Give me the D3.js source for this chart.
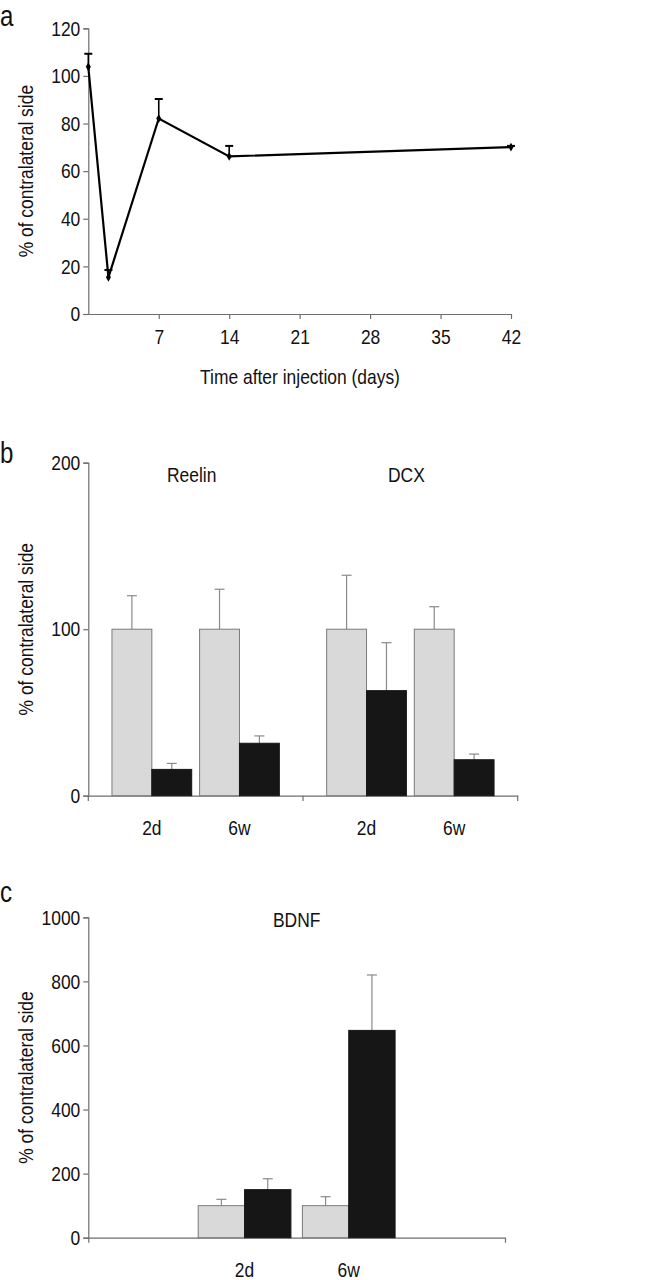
<!DOCTYPE html>
<html><head><meta charset="utf-8">
<script src="https://cdn.jsdelivr.net/npm/d3@7"></script>
<style>
html,body{margin:0;padding:0;background:#fff;}
text{font-family:"Liberation Sans",Arial,sans-serif;fill:#111;}
</style></head>
<body>
<svg id="c" width="646" height="1280"></svg>
<script>
// ---------- Panel a data ----------
const aDays = [0, 2, 7, 14, 42];
const aMean = [103.8, 15.4, 82.1, 66.2, 70.1];
const aErrTop = [109.3, 18.5, 90.3, 70.6, 70.6];
const aXTicks = [7, 14, 21, 28, 35, 42];
const aYTicks = [0, 20, 40, 60, 80, 100, 120];

// ---------- Panel b data ----------
const bMarkers = ["Reelin", "DCX"];
const bTimes = ["2d", "6w"];
const bSeries = ["contralateral", "ipsilateral"];
const bReelinContra = [100, 100];
const bReelinContraErr = [120.1, 124.0];
const bReelinIpsi = [15.8, 31.5];
const bReelinIpsiErr = [19.4, 35.9];
const bDcxContra = [100, 100];
const bDcxContraErr = [132.4, 113.5];
const bDcxIpsi = [63.1, 21.6];
const bDcxIpsiErr = [91.9, 25.0];
const bYTicks = [0, 100, 200];

// ---------- Panel c data ----------
const cCats = ["", "2d", "6w", " "];
const cContra = [null, 100, 100, null];
const cContraErr = [null, 119.8, 128, null];
const cIpsi = [null, 150, 647, null];
const cIpsiErr = [null, 184, 820, null];
const cYTicks = [0, 200, 400, 600, 800, 1000];

const svg = d3.select("#c");
const AXIS = "#6e6e6e";
const GREY = "#d9d9d9";
const BLACK = "#161616";
const FS = 21;

function styleAxis(g){
  g.selectAll("path.domain").attr("stroke", AXIS).attr("stroke-width", 1.2);
  g.selectAll(".tick line").attr("stroke", AXIS).attr("stroke-width", 1.2);
  g.selectAll("text").attr("font-size", FS).attr("fill", "#111")
    .style("font-family", '"Liberation Sans",Arial,sans-serif');
}
function yLabel(cy){
  svg.append("text").attr("transform", `translate(33,${cy}) rotate(-90)`)
    .attr("text-anchor", "middle").attr("font-size", FS).text("% of contralateral side");
}
function panelLetter(t, x, y){
  svg.append("text").attr("x", x).attr("y", y).attr("font-size", 29).text(t);
}

// ================= Panel a =================
{
  const x = d3.scaleLinear().domain([0, 42]).range([88.3, 511]);
  const y = d3.scaleLinear().domain([0, 120]).range([314, 28.3]);
  const g = svg.append("g");
  const ya = g.append("g").attr("transform", "translate(88.3,0)")
    .call(d3.axisLeft(y).tickValues(aYTicks).tickSize(5).tickPadding(3).tickFormat(d3.format("d")));
  styleAxis(ya);
  const xa = g.append("g").attr("transform", "translate(0,314)")
    .call(d3.axisBottom(x).tickValues(aXTicks).tickSize(5).tickSizeOuter(0).tickPadding(10));
  styleAxis(xa);
  const pts = aDays.map((d, i) => ({d, m: aMean[i], e: aErrTop[i]}));
  g.selectAll(".eb").data(pts).enter().append("line")
    .attr("x1", p => x(p.d)).attr("x2", p => x(p.d))
    .attr("y1", p => y(p.m)).attr("y2", p => y(p.e))
    .attr("stroke", "#000").attr("stroke-width", 1.6);
  g.selectAll(".cap").data(pts).enter().append("line")
    .attr("x1", p => x(p.d) - 4).attr("x2", p => x(p.d) + 4)
    .attr("y1", p => y(p.e)).attr("y2", p => y(p.e))
    .attr("stroke", "#000").attr("stroke-width", 2);
  g.append("path").datum(pts)
    .attr("d", d3.line().x(p => x(p.d)).y(p => y(p.m)))
    .attr("fill", "none").attr("stroke", "#000").attr("stroke-width", 2.2);
  g.selectAll(".mk").data(pts).enter().append("path")
    .attr("transform", p => `translate(${x(p.d)},${y(p.m)})`)
    .attr("d", d3.symbol(d3.symbolDiamond, 22)).attr("fill", "#000");
  svg.append("text").attr("x", 300).attr("y", 384)
    .attr("text-anchor", "middle").attr("font-size", FS).text("Time after injection (days)");
  yLabel((28.3 + 314) / 2);
  panelLetter("a", 0, 26);
}

// ================= Panel b =================
{
  const y = d3.scaleLinear().domain([0, 200]).range([795.7, 462.7]);
  const xg = d3.scaleBand().domain(bMarkers).range([88.3, 517.7]).padding(0);
  const xt = d3.scaleBand().domain(bTimes).range([0, xg.bandwidth()]).paddingInner(0.09).paddingOuter(0.27);
  const xs = d3.scaleBand().domain(bSeries).range([0, xt.bandwidth()]).padding(0);
  const g = svg.append("g");
  const ya = g.append("g").attr("transform", "translate(88.3,0)")
    .call(d3.axisLeft(y).tickValues(bYTicks).tickSize(5).tickPadding(3));
  styleAxis(ya);
  const xa = g.append("g").attr("transform", "translate(0,795.7)")
    .call(d3.axisBottom(xg).tickSize(0).tickSizeOuter(0).tickFormat(""));
  styleAxis(xa);
  const bounds = [xg.range()[0], xg(bMarkers[1]), xg.range()[1]];
  g.selectAll(".bt").data(bounds).enter().append("line")
    .attr("x1", d => d).attr("x2", d => d).attr("y1", 795.7).attr("y2", 801)
    .attr("stroke", AXIS).attr("stroke-width", 1.2);
  const table = {
    Reelin: {contralateral: [bReelinContra, bReelinContraErr], ipsilateral: [bReelinIpsi, bReelinIpsiErr]},
    DCX: {contralateral: [bDcxContra, bDcxContraErr], ipsilateral: [bDcxIpsi, bDcxIpsiErr]}
  };
  const bars = [];
  bMarkers.forEach(m => bTimes.forEach((t, ti) => bSeries.forEach(s => {
    bars.push({m, t, s, v: table[m][s][0][ti], e: table[m][s][1][ti]});
  })));
  const bx = b => xg(b.m) + xt(b.t) + xs(b.s);
  g.selectAll(".ebar").data(bars).enter().append("line")
    .attr("x1", b => bx(b) + xs.bandwidth() / 2).attr("x2", b => bx(b) + xs.bandwidth() / 2)
    .attr("y1", b => y(b.v)).attr("y2", b => y(b.e))
    .attr("stroke", "#8a8a8a").attr("stroke-width", 1.2);
  g.selectAll(".ecap").data(bars).enter().append("line")
    .attr("x1", b => bx(b) + xs.bandwidth() / 2 - 5).attr("x2", b => bx(b) + xs.bandwidth() / 2 + 5)
    .attr("y1", b => y(b.e)).attr("y2", b => y(b.e))
    .attr("stroke", "#8a8a8a").attr("stroke-width", 1.2);
  g.selectAll(".bar").data(bars).enter().append("rect")
    .attr("x", bx).attr("width", xs.bandwidth())
    .attr("y", b => y(b.v)).attr("height", b => y(0) - y(b.v))
    .attr("fill", b => b.s === "contralateral" ? GREY : BLACK)
    .attr("stroke", b => b.s === "contralateral" ? "#7a7a7a" : BLACK).attr("stroke-width", 1);
  bMarkers.forEach(m => bTimes.forEach(t => {
    svg.append("text").attr("x", xg(m) + xt(t) + xt.bandwidth() / 2).attr("y", 835)
      .attr("text-anchor", "middle").attr("font-size", FS).text(t);
  }));
  bMarkers.forEach(m => {
    svg.append("text").attr("x", xg(m) + xt(bTimes[0]) + xt.bandwidth()).attr("y", 482)
      .attr("text-anchor", "middle").attr("font-size", FS).text(m);
  });
  yLabel((462.7 + 795.7) / 2);
  panelLetter("b", 0, 463);
}

// ================= Panel c =================
{
  const y = d3.scaleLinear().domain([0, 1000]).range([1237.7, 917.3]);
  const x = d3.scaleBand().domain(cCats).range([88.3, 505]).paddingInner(0.11).paddingOuter(0.055);
  const xs = d3.scaleBand().domain(bSeries).range([0, x.bandwidth()]).padding(0);
  const g = svg.append("g");
  const ya = g.append("g").attr("transform", "translate(88.3,0)")
    .call(d3.axisLeft(y).tickValues(cYTicks).tickSize(5).tickPadding(3).tickFormat(d3.format("d")));
  styleAxis(ya);
  const xa = g.append("g").attr("transform", "translate(0,1237.7)")
    .call(d3.axisBottom(x).tickSize(0).tickSizeOuter(5).tickFormat(""));
  styleAxis(xa);
  const bars = [];
  cCats.forEach((c, i) => {
    if (cContra[i] != null) bars.push({c, s: "contralateral", v: cContra[i], e: cContraErr[i]});
    if (cIpsi[i] != null) bars.push({c, s: "ipsilateral", v: cIpsi[i], e: cIpsiErr[i]});
  });
  const bx = b => x(b.c) + xs(b.s);
  g.selectAll(".ebar").data(bars).enter().append("line")
    .attr("x1", b => bx(b) + xs.bandwidth() / 2).attr("x2", b => bx(b) + xs.bandwidth() / 2)
    .attr("y1", b => y(b.v)).attr("y2", b => y(b.e))
    .attr("stroke", "#8a8a8a").attr("stroke-width", 1.2);
  g.selectAll(".ecap").data(bars).enter().append("line")
    .attr("x1", b => bx(b) + xs.bandwidth() / 2 - 5).attr("x2", b => bx(b) + xs.bandwidth() / 2 + 5)
    .attr("y1", b => y(b.e)).attr("y2", b => y(b.e))
    .attr("stroke", "#8a8a8a").attr("stroke-width", 1.2);
  g.selectAll(".bar").data(bars).enter().append("rect")
    .attr("x", bx).attr("width", xs.bandwidth())
    .attr("y", b => y(b.v)).attr("height", b => y(0) - y(b.v))
    .attr("fill", b => b.s === "contralateral" ? GREY : BLACK)
    .attr("stroke", b => b.s === "contralateral" ? "#7a7a7a" : BLACK).attr("stroke-width", 1);
  cCats.forEach(c => {
    if (c.trim()) svg.append("text").attr("x", x(c) + x.bandwidth() / 2).attr("y", 1277)
      .attr("text-anchor", "middle").attr("font-size", FS).text(c);
  });
  svg.append("text").attr("x", (x(cCats[1]) + x(cCats[2]) + x.bandwidth()) / 2).attr("y", 927)
    .attr("text-anchor", "middle").attr("font-size", FS).text("BDNF");
  yLabel((917.3 + 1237.7) / 2);
  panelLetter("c", 0, 902);
}

// condense all text horizontally (original uses a narrow Helvetica)
svg.selectAll("text").each(function(){
  const w = this.getComputedTextLength();
  if (w > 0) d3.select(this).attr("textLength", w * 0.83).attr("lengthAdjust", "spacingAndGlyphs");
});
</script>
</body></html>
